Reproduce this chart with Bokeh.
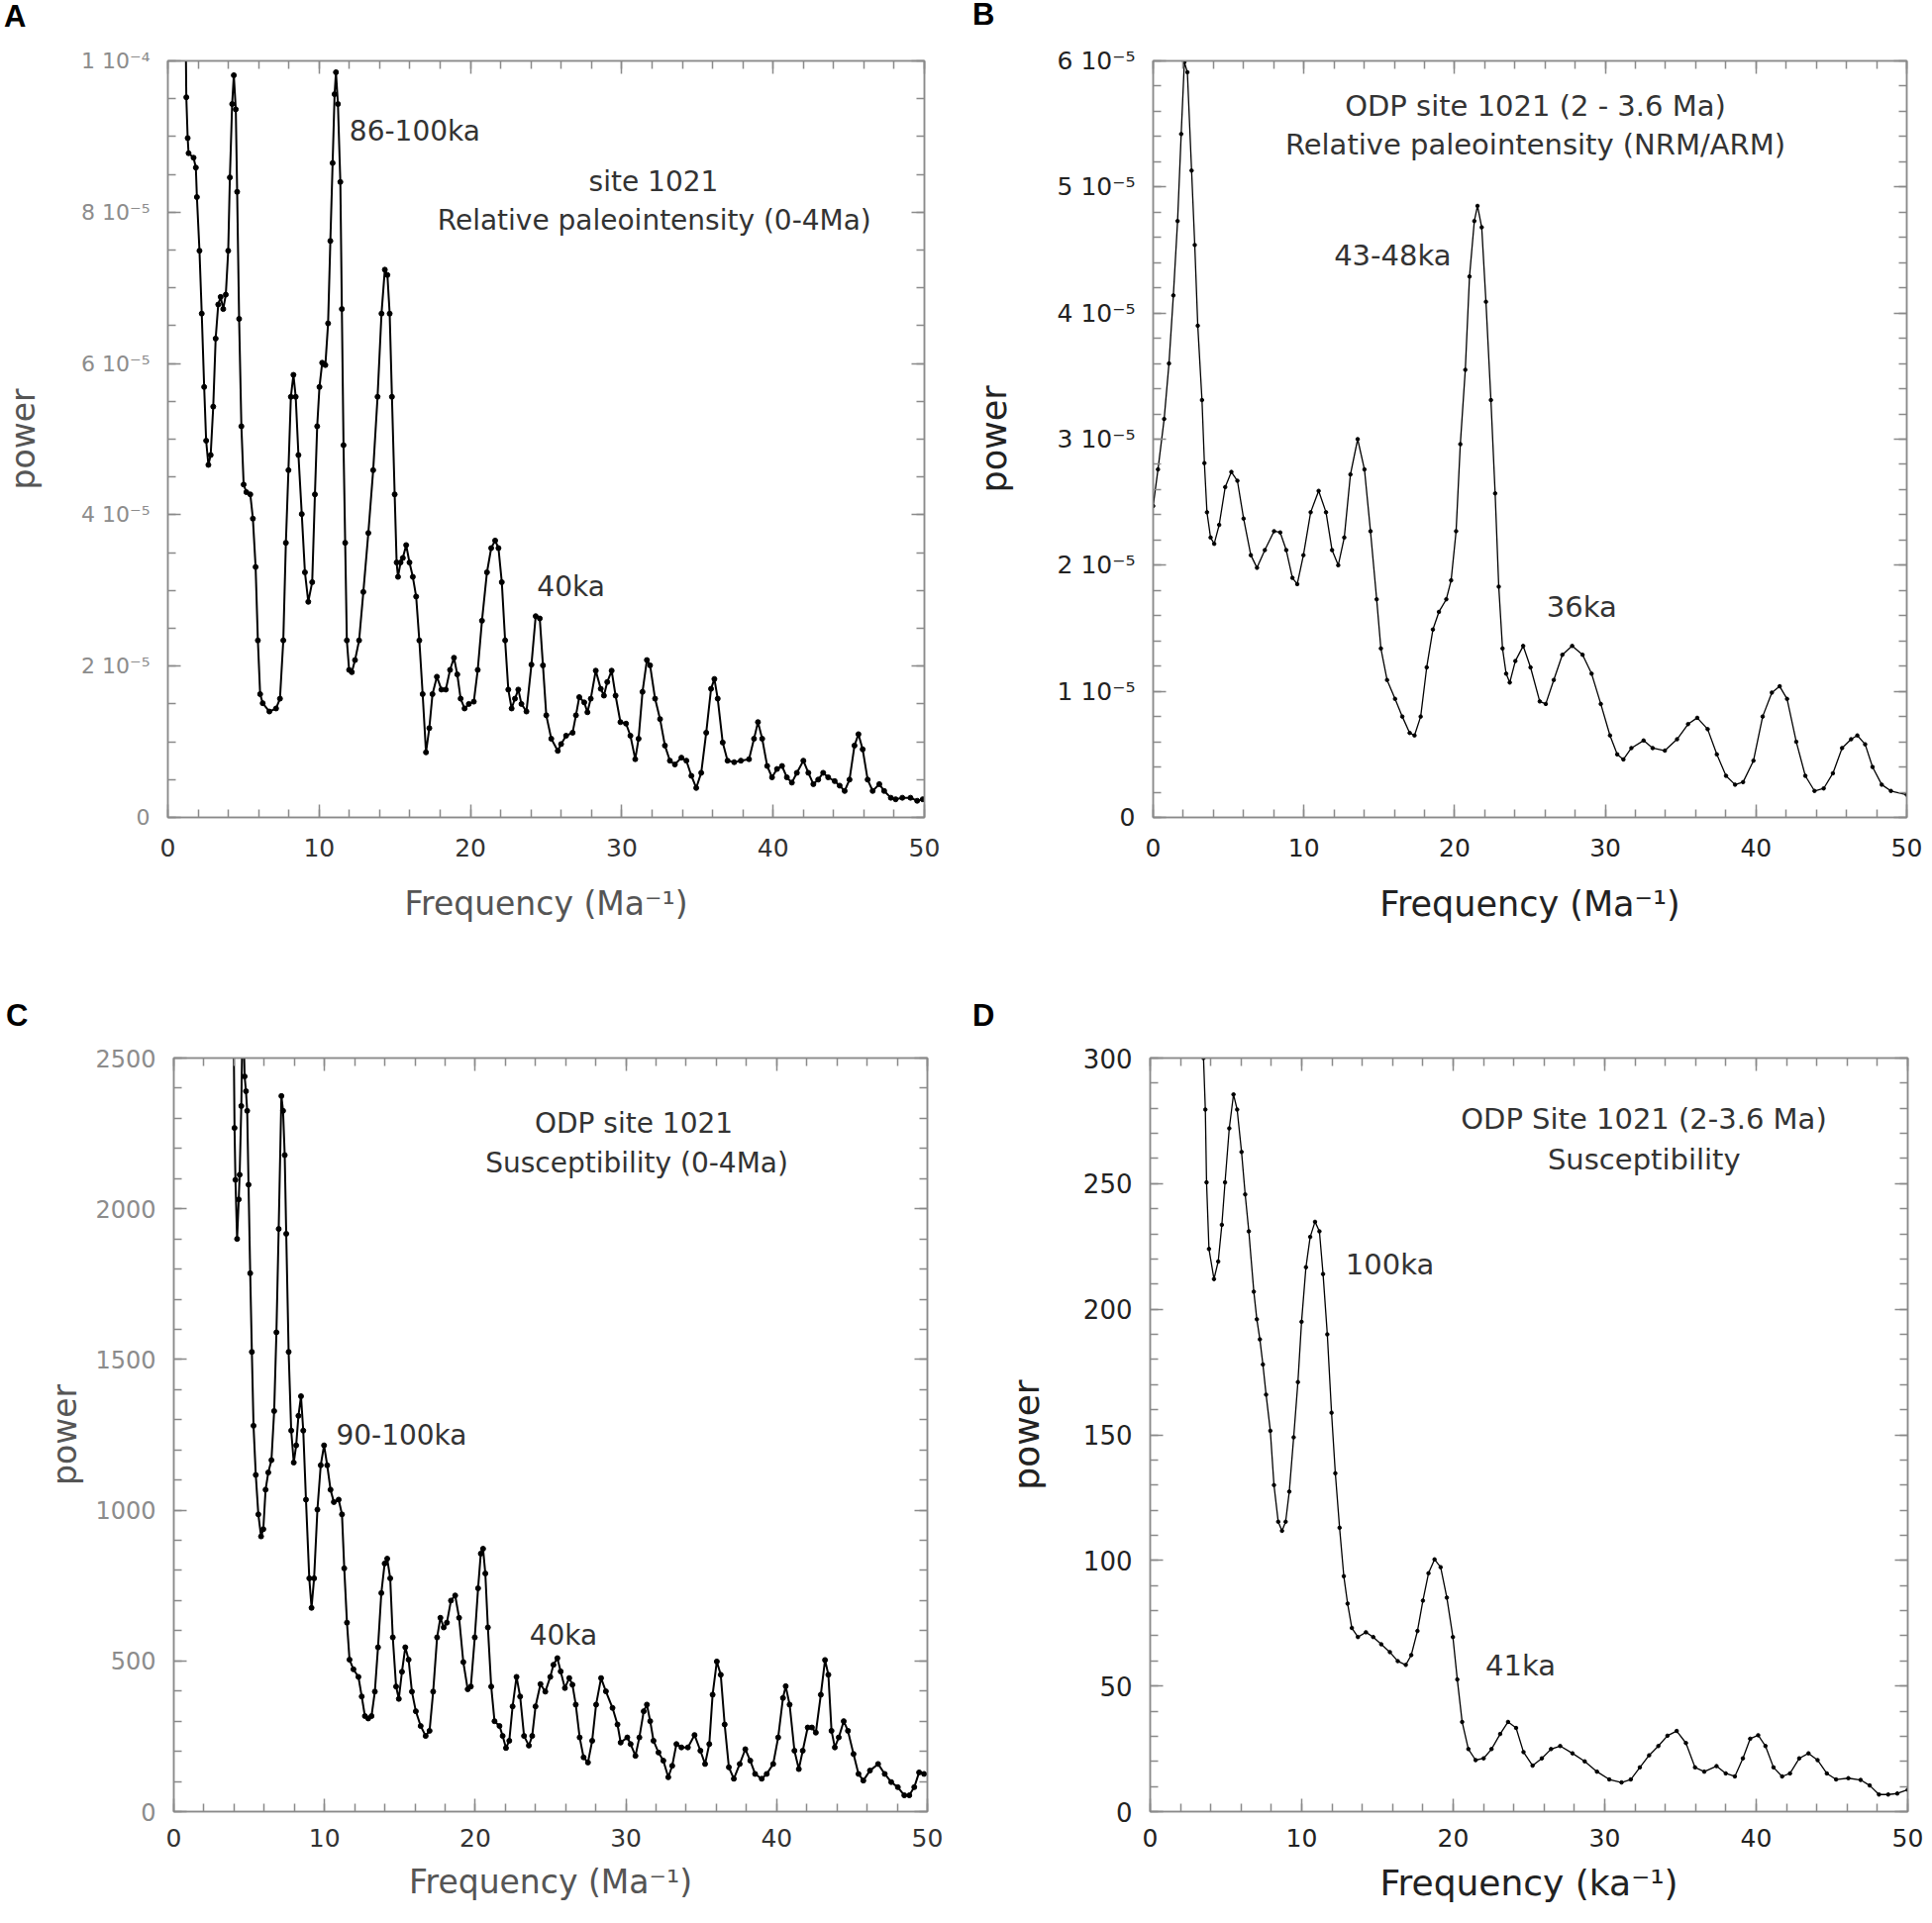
from bokeh.plotting import figure
from bokeh.layouts import column, row
from bokeh.models import (Range1d, LinearAxis, SingleIntervalTicker,
                          CustomJSTickFormatter, BasicTickFormatter, Label, Div)
from bokeh.embed import file_html
from bokeh.resources import INLINE
import numpy as np

FONT = "DejaVu Sans"

# ---------------- Panel A: site 1021 relative paleointensity (0-4 Ma) ----------------
a_freq = [1.15, 1.22, 1.31, 1.37, 1.70, 1.85, 1.92, 2.09, 2.24, 2.40, 2.53,
          2.68, 2.83, 3.00, 3.16, 3.33, 3.49, 3.66, 3.83, 3.99, 4.10,
          4.25, 4.36, 4.49, 4.58, 4.71, 4.86, 5.01, 5.19, 5.45, 5.62,
          5.80, 5.95, 6.10, 6.27, 6.71, 7.15, 7.41, 7.63, 7.80, 7.97,
          8.13, 8.30, 8.45, 8.63, 8.85, 9.06, 9.28, 9.54, 9.72, 9.87,
          10.02, 10.20, 10.41, 10.59, 10.74, 10.89, 11.02, 11.11, 11.24, 11.40,
          11.50, 11.61, 11.72, 11.83, 11.98, 12.16, 12.37, 12.64, 12.92, 13.25,
          13.57, 13.86, 14.12, 14.34, 14.51, 14.66, 14.81, 14.99, 15.12, 15.21,
          15.38, 15.53, 15.75, 15.97, 16.19, 16.41, 16.62, 16.84, 17.06, 17.28,
          17.49, 17.78, 18.08, 18.37, 18.65, 18.91, 19.13, 19.35, 19.61, 19.89,
          20.22, 20.48, 20.76, 21.09, 21.37, 21.63, 21.85, 22.07, 22.29, 22.50,
          22.72, 22.94, 23.16, 23.37, 23.70, 24.03, 24.31,
          24.58, 24.79, 25.01, 25.34, 25.77, 25.99, 26.32, 26.75, 26.97, 27.19,
          27.52, 27.73, 27.95, 28.28, 28.61, 28.82, 29.04, 29.33, 29.59, 29.91,
          30.28, 30.57, 30.89, 31.11, 31.37, 31.66, 31.87, 32.20, 32.53, 32.85,
          33.18, 33.51, 33.94, 34.27, 34.60, 34.92, 35.25, 35.58, 35.90, 36.12,
          36.34, 36.67, 36.99, 37.43, 37.87, 38.41, 38.74, 39.00, 39.28, 39.61,
          39.93, 40.26, 40.59, 40.91, 41.24, 41.57, 42.00, 42.33, 42.66, 42.98,
          43.31, 43.64, 44.07, 44.40, 44.73, 45.05, 45.38, 45.64, 45.92, 46.25,
          46.58, 47.02, 47.34, 47.78, 48.10, 48.54, 49.08, 49.52, 49.89]
# power in units of 1e-5
a_power_e5 = [11.0, 9.52, 8.98, 8.78, 8.72, 8.59, 8.20, 7.49, 6.66, 5.69, 4.98,
              4.66, 4.79, 5.43, 6.33, 6.78, 6.88, 6.72, 6.91, 7.49, 8.46,
              9.43, 9.81, 9.36, 8.27, 6.59, 5.17, 4.40, 4.30, 4.27, 3.95,
              3.31, 2.34, 1.63, 1.51, 1.40, 1.44, 1.57, 2.34, 3.63, 4.59,
              5.56, 5.85, 5.56, 4.79, 4.01, 3.24, 2.85, 3.11, 4.27, 5.17,
              5.69, 6.01, 5.98, 6.53, 7.62, 8.65, 9.56, 9.85, 9.43, 8.40,
              6.72, 4.92, 3.63, 2.34, 1.95, 1.92, 2.08, 2.34, 2.98, 3.76,
              4.59, 5.56, 6.66, 7.24, 7.17, 6.66, 5.56, 4.27, 3.37, 3.18,
              3.37, 3.43, 3.60, 3.37, 3.18, 2.92, 2.34, 1.63, 0.86, 1.18,
              1.63, 1.86, 1.69, 1.69, 1.95, 2.11, 1.89, 1.57, 1.44, 1.50,
              1.53, 1.95, 2.60, 3.24, 3.56, 3.66, 3.56, 3.11, 2.34, 1.69,
              1.44, 1.57, 1.69, 1.50, 1.40, 2.02, 2.66,
              2.63, 2.01, 1.35, 1.04, 0.88, 0.97, 1.08, 1.12, 1.35, 1.59,
              1.52, 1.39, 1.57, 1.94, 1.70, 1.61, 1.79, 1.94, 1.61, 1.26,
              1.24, 1.08, 0.77, 1.04, 1.66, 2.08, 2.01, 1.57, 1.30, 0.95,
              0.75, 0.70, 0.79, 0.75, 0.55, 0.39, 0.59, 1.12, 1.70, 1.83,
              1.57, 0.99, 0.75, 0.73, 0.75, 0.77, 1.04, 1.26, 1.04, 0.68,
              0.53, 0.64, 0.68, 0.53, 0.46, 0.59, 0.75, 0.59, 0.44, 0.50,
              0.59, 0.53, 0.48, 0.42, 0.35, 0.50, 0.95, 1.10, 0.90, 0.50,
              0.35, 0.44, 0.35, 0.26, 0.24, 0.26, 0.26, 0.22, 0.24]

# ---------------- Panel B: ODP 1021 (2-3.6 Ma) paleointensity ----------------
b_freq = [0.00, 0.32, 0.73, 1.05, 1.34, 1.62, 1.86, 2.07, 2.27, 2.55,
          2.76, 2.96, 3.24, 3.40, 3.57, 3.81, 4.05, 4.38, 4.78, 5.19,
          5.59, 6.00, 6.48, 6.89, 7.41, 8.02, 8.43, 8.83, 9.24, 9.56,
          9.97, 10.45, 10.98, 11.47, 11.87, 12.28, 12.68, 13.09, 13.57, 14.02,
          14.42, 14.83, 15.11, 15.52, 16.05, 16.53, 17.02, 17.34, 17.75, 18.15,
          18.56, 18.96, 19.45, 19.77, 20.10, 20.38, 20.71, 20.99, 21.31, 21.52,
          21.80, 22.08, 22.41, 22.69, 22.93, 23.18, 23.42, 23.66, 24.03, 24.55,
          25.04, 25.65, 26.05, 26.58, 27.15, 27.80, 28.49, 29.09, 29.70, 30.31,
          30.79, 31.20, 31.73, 32.54, 33.14, 33.95, 34.76, 35.49, 36.10, 36.79,
          37.40, 38.01, 38.61, 39.14, 39.83, 40.44, 41.05, 41.57, 42.06, 42.67,
          43.27, 43.88, 44.49, 45.10, 45.71, 46.31, 46.72, 47.24, 47.73, 48.34,
          48.95, 50.00]
b_power_e5 = [2.47, 2.76, 3.16, 3.60, 4.14, 4.73, 5.42, 5.99, 5.91, 5.13,
              4.54, 3.90, 3.31, 2.81, 2.42, 2.22, 2.17, 2.32, 2.62, 2.74,
              2.67, 2.37, 2.08, 1.98, 2.12, 2.27, 2.26, 2.12, 1.90, 1.85,
              2.08, 2.42, 2.59, 2.42, 2.12, 2.00, 2.22, 2.72, 3.00, 2.76,
              2.27, 1.73, 1.34, 1.09, 0.94, 0.80, 0.67, 0.65, 0.80, 1.19,
              1.49, 1.63, 1.73, 1.88, 2.27, 2.96, 3.55, 4.29, 4.73, 4.85,
              4.68, 4.09, 3.31, 2.57, 1.83, 1.34, 1.14, 1.07, 1.24, 1.36,
              1.19, 0.92, 0.90, 1.09, 1.29, 1.36, 1.29, 1.14, 0.90, 0.65,
              0.50, 0.46, 0.55, 0.61, 0.55, 0.53, 0.62, 0.74, 0.79, 0.70,
              0.50, 0.33, 0.26, 0.28, 0.45, 0.80, 0.99, 1.04, 0.94, 0.60,
              0.33, 0.21, 0.23, 0.35, 0.55, 0.62, 0.65, 0.58, 0.40, 0.26,
              0.21, 0.18]

# ---------------- Panel C: ODP 1021 susceptibility (0-4 Ma) ----------------
c_freq = [3.95, 4.03, 4.09, 4.20, 4.31, 4.37, 4.48, 4.58, 4.70, 4.79,
          4.87, 4.96, 5.07, 5.18, 5.29, 5.44, 5.61, 5.79, 5.94, 6.09,
          6.27, 6.48, 6.66, 6.81, 6.96, 7.14, 7.25, 7.36, 7.46, 7.62,
          7.79, 7.96, 8.12, 8.27, 8.44, 8.59, 8.77, 8.99, 9.14, 9.31,
          9.53, 9.75, 9.97, 10.18, 10.40, 10.62, 10.94, 11.16, 11.31, 11.49,
          11.66, 11.92, 12.25, 12.47, 12.68, 12.90, 13.12, 13.34, 13.55, 13.77,
          13.99, 14.16, 14.36, 14.53, 14.75, 14.93, 15.14, 15.36, 15.58, 15.80,
          16.06, 16.38, 16.71, 16.97, 17.21, 17.47, 17.69, 17.91, 18.12, 18.39,
          18.67, 18.93, 19.21, 19.50, 19.71, 19.97, 20.19, 20.37, 20.52, 20.67,
          20.84, 21.06, 21.28, 21.61, 21.82, 22.04, 22.26, 22.48, 22.74, 22.98,
          23.24, 23.56, 23.78, 24.00, 24.33, 24.65, 24.98,
          25.19, 25.45, 25.67, 25.95, 26.24, 26.45, 26.67, 26.93, 27.19, 27.48,
          27.76, 28.02, 28.35, 28.67, 29.11, 29.44, 29.65, 30.09, 30.31, 30.63,
          30.89, 31.18, 31.39, 31.61, 31.83, 32.16, 32.48, 32.81, 33.07, 33.35,
          33.68, 34.11, 34.55, 34.94, 35.25, 35.53, 35.75, 36.03, 36.29, 36.55,
          36.83, 37.16, 37.55, 37.92, 38.25, 38.57, 39.01, 39.34, 39.77, 40.10,
          40.42, 40.60, 40.86, 41.18, 41.47, 41.73, 42.06, 42.34, 42.60, 42.93,
          43.21, 43.43, 43.64, 43.86, 44.12, 44.45, 44.73, 45.10, 45.43, 45.75,
          46.19, 46.73, 47.17, 47.60, 48.04, 48.47, 48.80, 49.13, 49.45, 49.78]
c_power = [2700, 2268, 2096, 1900, 2031, 2113, 2341, 2700, 2439, 2390,
           2325, 2080, 1786, 1525, 1280, 1117, 986, 913, 937, 1068,
           1125, 1166, 1329, 1590, 1933, 2374, 2325, 2178, 1917, 1525,
           1264, 1158, 1215, 1313, 1378, 1264, 1035, 774, 676, 774,
           1002, 1149, 1215, 1149, 1068, 1027, 1035, 986, 807, 627,
           504, 472, 447, 382, 317, 309, 317, 398, 545, 725,
           823, 839, 774, 578, 415, 374, 464, 545, 504, 398,
           333, 284, 251, 268, 398, 578, 643, 611, 627, 700,
           717, 643, 496, 406, 415, 578, 741, 856, 872, 790,
           611, 415, 300, 284, 251, 211, 235, 349, 447, 382,
           251, 219, 251, 349, 423, 398, 447,
           487, 509, 465, 410, 443, 421, 355, 246, 180, 163,
           235, 355, 443, 399, 344, 289, 229, 246, 224, 185,
           246, 333, 355, 300, 235, 196, 169, 114, 152, 224,
           213, 213, 254, 202, 158, 224, 388, 498, 454, 289,
           147, 109, 158, 207, 169, 125, 109, 125, 158, 246,
           377, 416, 355, 202, 141, 202, 279, 279, 262, 388,
           503, 454, 268, 213, 246, 300, 268, 191, 125, 103,
           136, 158, 125, 98, 81, 54, 54, 81, 130, 125]

# ---------------- Panel D: ODP 1021 susceptibility (2-3.6 Ma) ----------------
d_freq = [3.52, 3.64, 3.72, 3.88, 4.21, 4.49, 4.73, 4.94, 5.22, 5.50,
          5.74, 6.03, 6.27, 6.51, 6.84, 7.04, 7.24, 7.44, 7.65, 7.93,
          8.17, 8.45, 8.70, 8.94, 9.18, 9.47, 9.75, 9.99, 10.28, 10.56,
          10.88, 11.17, 11.41, 11.69, 11.97, 12.22, 12.50, 12.78, 13.03, 13.31,
          13.71, 14.24, 14.72, 15.25, 15.82, 16.34, 16.87, 17.23, 17.64, 18.00,
          18.37, 18.77, 19.17, 19.58, 19.98, 20.27, 20.59, 21.00, 21.48, 22.01,
          22.53, 23.10, 23.62, 24.15, 24.64, 25.24, 25.85, 26.46, 27.06, 27.87,
          28.68, 29.49, 30.30, 31.11, 31.72, 32.32, 32.93, 33.54, 34.14, 34.75,
          35.36, 35.96, 36.57, 37.38, 37.99, 38.59, 39.12, 39.60, 40.13, 40.61,
          41.14, 41.71, 42.23, 42.84, 43.45, 44.05, 44.66, 45.27, 46.08, 46.89,
          47.49, 48.10, 48.71, 49.31, 50.00]
d_power = [300, 279.5, 250.5, 224, 212, 219, 233.6, 250.5, 272, 285.5,
           279.5, 262.6, 245.7, 231, 207, 196, 188, 178, 166, 151.6,
           130, 115.4, 111.8, 115.4, 127.4, 149, 171, 195, 216.7, 228.8,
           234.8, 231, 214, 190, 158.8, 134.7, 113, 93.7, 82.8, 73.1,
           69.5, 71.4, 69.5, 66.6, 63.5, 59.9, 58.4, 62.3, 71.9, 84,
           94.9, 100.4, 97.3, 85.2, 69.5, 52.6, 35.7, 24.9, 20.5, 21.2,
           24.9, 30.9, 35.7, 33.3, 23.7, 18.3, 21.2, 24.9, 26.1, 23.2,
           20.0, 15.9, 12.8, 11.6, 12.8, 17.6, 22.4, 26.1, 30.2, 32.1,
           27.3, 17.6, 15.9, 18.1, 15.2, 14.0, 21.2, 29.0, 30.4, 26.1,
           17.6, 14.0, 15.2, 21.2, 23.2, 20.5, 15.2, 12.8, 13.3, 12.6,
           10.4, 6.8, 6.8, 7.2, 8.7]

SCI_CODE = """
if (Math.abs(tick) < 1e-15) { return "0"; }
const e = Math.floor(Math.log10(Math.abs(tick)) + 1e-9);
const m = Math.round(tick / Math.pow(10, e));
const sup = {"-": "\u207b", "0": "\u2070", "1": "\u00b9", "2": "\u00b2", "3": "\u00b3",
             "4": "\u2074", "5": "\u2075", "6": "\u2076", "7": "\u2077", "8": "\u2078", "9": "\u2079"};
let s = "";
for (const c of String(e)) { s += sup[c]; }
return m + " 10" + s;
"""

FRAME = "#8a8a8a"


def style_axis(ax):
    ax.major_tick_in = 13
    ax.major_tick_out = 0
    ax.minor_tick_in = 8
    ax.minor_tick_out = 0
    ax.axis_line_color = FRAME
    ax.axis_line_width = 1.5
    ax.major_tick_line_color = FRAME
    ax.major_tick_line_width = 1.5
    ax.minor_tick_line_color = FRAME
    ax.minor_tick_line_width = 1.5


def bare_axis(interval, nminor):
    ax = LinearAxis(ticker=SingleIntervalTicker(interval=interval, num_minor_ticks=nminor),
                    major_label_text_font_size="1px", major_label_text_color=None,
                    major_label_standoff=0)
    style_axis(ax)
    return ax


def make_panel(xs, ys, ymax, yint, ynminor, sci, xlabel,
               width, height, borders, ytick_size, ytick_color, xtick_color,
               axis_color, axis_size, xtick_standoff, xlab_standoff,
               ylab_standoff, texts, line_w, dot_size):
    p = figure(width=width, height=height, output_backend="svg",
               toolbar_location=None, x_range=Range1d(0, 50),
               y_range=Range1d(0, ymax * (1 + 1e-9)), x_axis_type=None, y_axis_type=None)
    p.min_border_left, p.min_border_right, p.min_border_top, p.min_border_bottom = borders
    p.xgrid.visible = False
    p.ygrid.visible = False
    p.outline_line_color = FRAME
    p.outline_line_width = 1.5
    p.background_fill_color = "white"
    p.border_fill_color = "white"

    fmt = CustomJSTickFormatter(code=SCI_CODE) if sci else BasicTickFormatter()

    xb = LinearAxis(ticker=SingleIntervalTicker(interval=10, num_minor_ticks=5),
                    axis_label=xlabel)
    style_axis(xb)
    xb.major_label_text_font = FONT
    xb.major_label_text_font_size = "25px"
    xb.major_label_text_color = xtick_color
    xb.major_label_standoff = xtick_standoff
    xb.axis_label_text_font = FONT
    xb.axis_label_text_font_style = "normal"
    xb.axis_label_text_font_size = axis_size
    xb.axis_label_text_color = axis_color
    xb.axis_label_standoff = xlab_standoff
    p.add_layout(xb, "below")
    p.add_layout(bare_axis(10, 5), "above")

    yl = LinearAxis(ticker=SingleIntervalTicker(interval=yint, num_minor_ticks=ynminor),
                    formatter=fmt, axis_label="power")
    style_axis(yl)
    yl.major_label_text_font = FONT
    yl.major_label_text_font_size = ytick_size
    yl.major_label_text_color = ytick_color
    yl.major_label_standoff = 18
    yl.axis_label_text_font = FONT
    yl.axis_label_text_font_style = "normal"
    yl.axis_label_text_font_size = axis_size
    yl.axis_label_text_color = axis_color
    yl.axis_label_standoff = ylab_standoff
    p.add_layout(yl, "left")
    p.add_layout(bare_axis(yint, ynminor), "right")

    p.line(xs, ys, line_color="black", line_width=line_w)
    p.scatter(xs, ys, size=dot_size, fill_color="black", line_color="black")

    for (tx, ty, txt, align, size) in texts:
        p.add_layout(Label(x=tx, y=ty, text=txt, text_font=FONT,
                           text_font_size=size, text_color="#333333",
                           text_align=align, text_baseline="middle"))
    return p


def letter_div(letter, width, height, pad_top, pad_left):
    html = ('<div style="font-family: \'Liberation Sans\', Arial, sans-serif; '
            'font-weight: bold; font-size: 31px; line-height: 28px; margin: 0; '
            f'padding-top: {pad_top}px; padding-left: {pad_left}px; color: black;">'
            f'{letter}</div>')
    return Div(text=html, width=width, height=height, margin=(0, 0, 0, 0))


E5 = 1e-5
# top row: letter strip 30 px, figures 945 px tall (frames at page y 61..825)
pA = make_panel(a_freq, list(np.array(a_power_e5) * E5), 1e-4, 2e-5, 4, True,
                "Frequency (Ma\u207b\u00b9)", 980, 945, (169, 47, 31, 150),
                "22px", "#8c8c8c", "#333333", "#555555", "33px", 21, 25, 36,
                [(12.0, 9.07e-5, "86-100ka", "left", "28px"),
                 (32.1, 8.40e-5, "site 1021", "center", "28px"),
                 (32.15, 7.89e-5, "Relative paleointensity (0-4Ma)", "center", "28px"),
                 (24.4, 3.05e-5, "40ka", "left", "28px")],
                2.0, 5)

pB = make_panel(b_freq, list(np.array(b_power_e5) * E5), 6e-5, 1e-5, 5, True,
                "Frequency (Ma\u207b\u00b9)", 970, 945, (181, 25, 31, 150),
                "25px", "#222222", "#222222", "#222222", "35px", 21, 25, 41,
                [(25.36, 5.646e-5, "ODP site 1021 (2 - 3.6 Ma)", "center", "29px"),
                 (25.36, 5.34e-5, "Relative paleointensity (NRM/ARM)", "center", "29px"),
                 (12.0, 4.46e-5, "43-48ka", "left", "29px"),
                 (26.1, 1.67e-5, "36ka", "left", "29px")],
                1.3, 3.5)

# bottom row: letter strip 65 px, figures 900 px tall (frames at page y 1068..1829)
pC = make_panel(c_freq, c_power, 2500, 500, 5, False,
                "Frequency (Ma\u207b\u00b9)", 980, 900, (175, 44, 28, 111),
                "24px", "#8c8c8c", "#333333", "#555555", "33px", 17, 13, 8,
                [(30.52, 2284, "ODP site 1021", "center", "28px"),
                 (30.72, 2153, "Susceptibility (0-4Ma)", "center", "28px"),
                 (10.77, 1247, "90-100ka", "left", "28px"),
                 (23.6, 584, "40ka", "left", "28px")],
                2.0, 5)

pD = make_panel(d_freq, d_power, 300, 50, 5, False,
                "Frequency (ka\u207b\u00b9)", 970, 900, (181, 24, 28, 111),
                "26px", "#222222", "#222222", "#222222", "36px", 17, 13, 34,
                [(32.58, 275.6, "ODP Site 1021 (2-3.6 Ma)", "center", "29px"),
                 (32.6, 259.5, "Susceptibility", "center", "29px"),
                 (12.9, 218, "100ka", "left", "29px"),
                 (22.13, 58, "41ka", "left", "29px")],
                1.3, 3.5)

colA = column(letter_div("A", 980, 30, 3, 4), pA)
colB = column(letter_div("B", 970, 30, 1, 2), pB)
colC = column(letter_div("C", 980, 65, 37, 6), pC)
colD = column(letter_div("D", 970, 65, 37, 2), pD)

layout = column(row(colA, colB), row(colC, colD))
open("out.html", "w").write(file_html(layout, INLINE))
